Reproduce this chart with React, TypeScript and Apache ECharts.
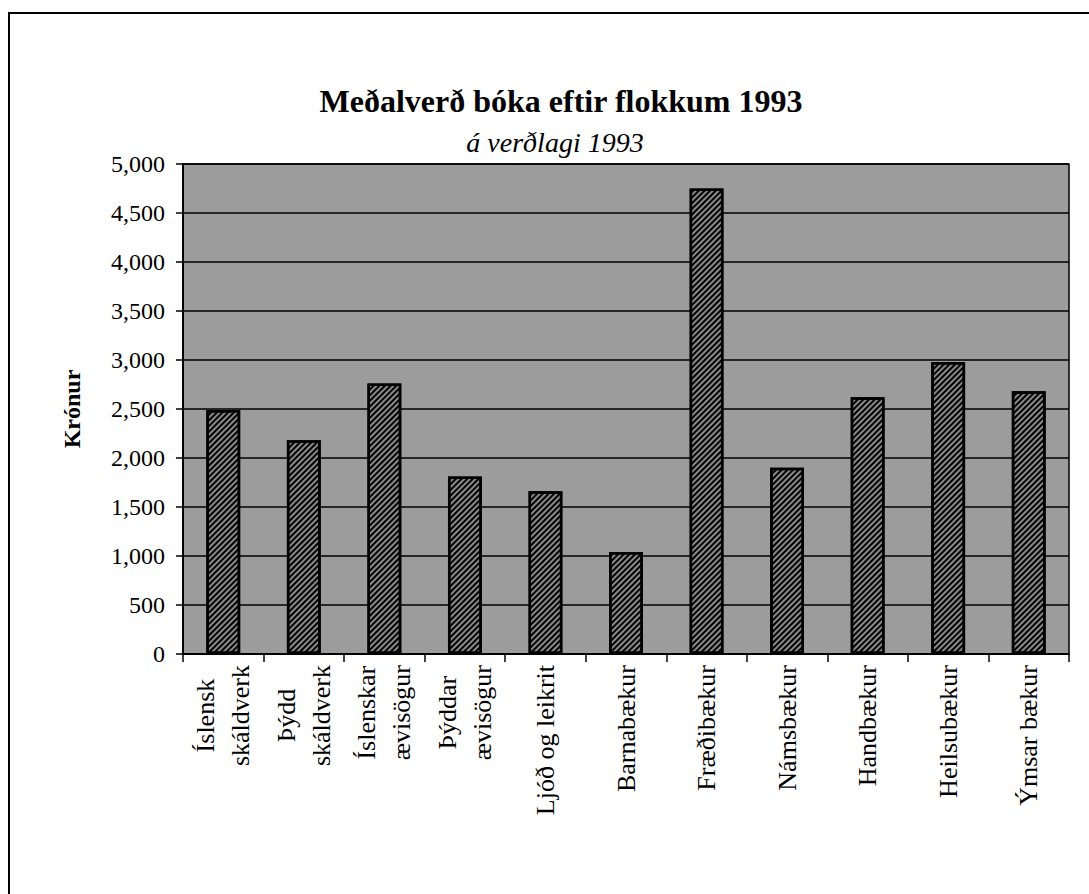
import React, { useEffect, useRef } from "react";
import * as echarts from "echarts";

const categories = [
  "Íslensk\nskáldverk",
  "Þýdd\nskáldverk",
  "Íslenskar\nævisögur",
  "Þýddar\nævisögur",
  "Ljóð og leikrit",
  "Barnabækur",
  "Fræðibækur",
  "Námsbækur",
  "Handbækur",
  "Heilsubækur",
  "Ýmsar bækur",
];
const prices = [2490, 2180, 2760, 1810, 1660, 1040, 4750, 1900, 2620, 2980, 2680];
const yMin = 0;
const yMax = 5000;
const yStep = 500;

const titleText = "Meðalverð bóka eftir flokkum 1993";
const subtitleText = "á verðlagi 1993";
const yName = "Krónur";

const SERIF = "Liberation Serif";

export default function App() {
  const ref = useRef<HTMLDivElement>(null);
  useEffect(() => {
    if (!ref.current) return;
    const chart = echarts.init(ref.current, undefined, { renderer: "svg" });
    chart.setOption({
      animation: false,
      backgroundColor: "#ffffff",
      textStyle: { fontFamily: SERIF, color: "#000" },
      title: [
        {
          text: titleText,
          left: 556,
          top: 80,
          textAlign: "center",
          textStyle: { fontFamily: SERIF, fontSize: 32, fontWeight: "bold", color: "#000" },
        },
        {
          text: subtitleText,
          left: 550,
          top: 123,
          textAlign: "center",
          textStyle: { fontFamily: SERIF, fontSize: 28, fontStyle: "italic", fontWeight: "normal", color: "#000" },
        },
      ],
      graphic: [
        { type: "line", shape: { x1: 8, y1: 13, x2: 1089, y2: 13 }, style: { stroke: "#000", lineWidth: 2 } },
        { type: "line", shape: { x1: 9, y1: 13, x2: 9, y2: 894 }, style: { stroke: "#000", lineWidth: 2 } },
      ],
      grid: {
        left: 183,
        right: 20,
        top: 164,
        bottom: 240,
        show: true,
        backgroundColor: "#9c9c9c",
        borderColor: "#000",
        borderWidth: 1.5,
      },
      xAxis: {
        type: "category",
        data: categories,
        axisLine: { lineStyle: { color: "#000", width: 2 } },
        axisTick: { show: true, length: 8, lineStyle: { color: "#000", width: 1.5 } },
        axisLabel: {
          interval: 0,
          rotate: 90,
          margin: 11,
          color: "#000",
          fontFamily: SERIF,
          fontSize: 26,
          formatter: (v: string) => v.split("\n").map((s) => `{c|${s}}`).join("\n"),
          rich: {
            c: { align: "center", fontFamily: SERIF, fontSize: 26, lineHeight: 35, color: "#000" },
          },
        },
      },
      yAxis: {
        type: "value",
        min: yMin,
        max: yMax,
        interval: yStep,
        name: yName,
        nameLocation: "middle",
        nameGap: 99,
        nameRotate: 90,
        nameTextStyle: { fontFamily: SERIF, fontSize: 24, fontWeight: "bold", color: "#000" },
        axisLine: { show: true, lineStyle: { color: "#000", width: 2 } },
        axisTick: { show: true, length: 7, lineStyle: { color: "#000", width: 1.5 } },
        axisLabel: {
          margin: 18,
          color: "#000",
          fontFamily: SERIF,
          fontSize: 24,
          formatter: (v: number) => v.toLocaleString("en-US"),
        },
        splitLine: { show: true, lineStyle: { color: "#000", width: 1.5 } },
      },
      series: [
        {
          type: "bar",
          data: prices,
          barWidth: "42%",
          itemStyle: {
            color: "#8a8a8a",
            borderColor: "#000",
            borderWidth: 2.5,
            decal: {
              symbol: "rect",
              symbolSize: 1,
              color: "#000",
              dashArrayX: [1, 0],
              dashArrayY: [2, 2],
              rotation: -Math.PI / 4,
            },
          },
        },
      ],
    });
    return () => chart.dispose();
  }, []);
  return (
    <div
      ref={ref}
      style={{ position: "fixed", left: 0, top: 0, width: 1089, height: 894, background: "#fff" }}
    />
  );
}
